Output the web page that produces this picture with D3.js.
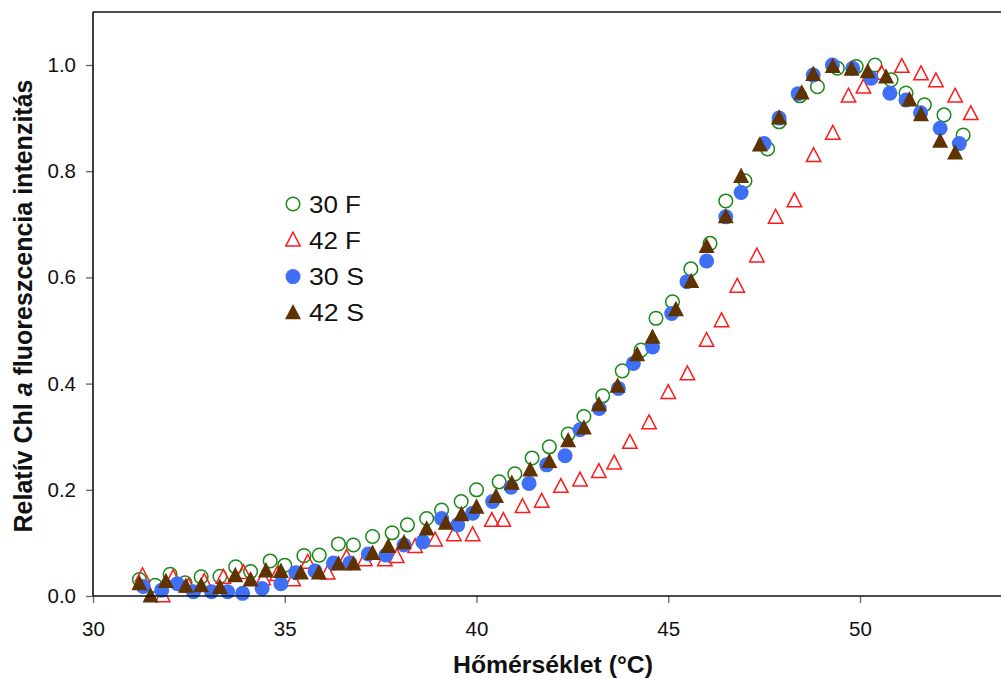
<!DOCTYPE html>
<html><head><meta charset="utf-8">
<script src="https://cdn.jsdelivr.net/npm/d3@7"></script>
<style>body{margin:0;background:#fff}svg{display:block}text{font-family:"Liberation Sans",Arial,sans-serif}</style>
</head><body><svg id="c" width="1001" height="679"></svg>
<script>
const xTicks=[30,35,40,45,50];
const yTicks=[0,0.2,0.4,0.6,0.8,1.0];
const legendLabels=["30 F","42 F","30 S","42 S"];
const f30x=[31.21,31.62,32.01,32.40,32.82,33.31,33.72,34.11,34.62,35.00,35.50,35.90,36.40,36.79,37.29,37.80,38.20,38.70,39.09,39.60,40.00,40.59,41.00,41.45,41.90,42.39,42.80,43.29,43.80,44.29,44.68,45.11,45.59,46.09,46.50,47.00,47.59,47.89,48.43,48.89,49.41,49.90,50.39,50.81,51.20,51.68,52.19,52.69];
const f30y=[0.031,0.020,0.041,0.025,0.036,0.037,0.055,0.046,0.066,0.058,0.076,0.077,0.098,0.096,0.112,0.119,0.134,0.146,0.162,0.178,0.200,0.215,0.230,0.260,0.281,0.305,0.338,0.377,0.424,0.463,0.523,0.554,0.616,0.664,0.744,0.782,0.842,0.893,0.942,0.959,0.994,0.997,1.000,0.972,0.947,0.925,0.906,0.868];
const f42x=[31.29,31.82,32.09,32.49,32.90,33.40,33.92,34.44,34.80,35.22,35.60,36.12,36.61,37.09,37.61,37.92,38.40,38.92,39.41,39.90,40.40,40.70,41.20,41.70,42.20,42.70,43.19,43.59,44.00,44.50,45.00,45.50,46.00,46.39,46.80,47.31,47.80,48.29,48.79,49.29,49.70,50.09,50.56,51.09,51.59,51.98,52.48,52.89];
const f42y=[0.038,0.000,0.034,0.018,0.027,0.035,0.044,0.032,0.040,0.030,0.063,0.043,0.072,0.068,0.068,0.074,0.093,0.105,0.115,0.115,0.142,0.142,0.168,0.178,0.206,0.218,0.234,0.250,0.289,0.326,0.383,0.418,0.481,0.518,0.583,0.640,0.713,0.744,0.829,0.871,0.941,0.958,0.984,0.997,0.983,0.970,0.941,0.908];
const s30x=[31.31,31.79,32.20,32.62,33.09,33.51,33.90,34.41,34.90,35.29,35.79,36.27,36.70,37.18,37.64,38.11,38.60,39.09,39.51,39.90,40.42,40.90,41.37,41.83,42.31,42.70,43.20,43.70,44.09,44.59,45.09,45.49,46.00,46.50,46.90,47.50,47.89,48.39,48.78,49.28,49.81,50.29,50.78,51.20,51.58,52.09,52.59];
const s30y=[0.018,0.011,0.023,0.008,0.008,0.008,0.005,0.014,0.023,0.044,0.047,0.062,0.062,0.079,0.077,0.096,0.102,0.146,0.134,0.156,0.178,0.205,0.212,0.247,0.264,0.313,0.353,0.391,0.438,0.469,0.532,0.592,0.631,0.714,0.760,0.852,0.900,0.946,0.981,1.000,0.994,0.975,0.947,0.934,0.910,0.881,0.852];
const s42x=[31.21,31.50,31.90,32.42,32.82,33.31,33.71,34.11,34.51,34.90,35.42,35.89,36.40,36.79,37.29,37.70,38.11,38.70,39.20,39.61,40.00,40.51,40.92,41.40,41.90,42.39,42.80,43.19,43.68,44.19,44.59,45.20,45.60,46.00,46.50,46.90,47.39,47.89,48.48,48.78,49.29,49.78,50.20,50.68,51.29,51.59,52.09,52.48];
const s42y=[0.023,0.000,0.027,0.018,0.019,0.016,0.038,0.030,0.047,0.046,0.043,0.043,0.060,0.060,0.080,0.093,0.100,0.126,0.137,0.153,0.167,0.187,0.212,0.237,0.253,0.292,0.316,0.360,0.395,0.454,0.487,0.539,0.592,0.658,0.714,0.790,0.849,0.900,0.947,0.982,0.997,0.992,0.987,0.977,0.934,0.906,0.856,0.834];

const svg=d3.select("#c");
const L=93,T=12,B=596,R=1001;
const x=d3.scaleLinear().domain([30,30+(R-L)/38.35]).range([L,R]);
const y=d3.scaleLinear().domain([0,1.1]).range([B,B-1.1*531]);

const tri=(r)=>`M0,${-r*1.12}L${r},${r*0.8}L${-r},${r*0.8}Z`;
const series=[
 {xs:f30x,ys:f30y,type:"circle",fill:"none",stroke:"#188a18"},
 {xs:f42x,ys:f42y,type:"tri",fill:"none",stroke:"#ff1a1a"},
 {xs:s30x,ys:s30y,type:"circle",fill:"#3f6ff5",stroke:"none"},
 {xs:s42x,ys:s42y,type:"tri",fill:"#5e3300",stroke:"none"}
];
function mark(g,s,cx,cy){
  if(s.type==="circle"){
    g.append("circle").attr("cx",cx).attr("cy",cy).attr("r",s.fill==="none"?6.8:7.5)
     .attr("fill",s.fill).attr("stroke",s.stroke).attr("stroke-width",1.5);
  } else {
    g.append("path").attr("d",tri(s.fill==="none"?7.2:8)).attr("transform",`translate(${cx},${cy})`)
     .attr("fill",s.fill).attr("stroke",s.stroke).attr("stroke-width",1.5);
  }
}
const pg=svg.append("g");
series.forEach(s=>{ s.xs.forEach((v,i)=>mark(pg,s,x(v),y(s.ys[i]))); });

// axes
const xa=svg.append("g").attr("transform",`translate(0,${B})`).call(d3.axisBottom(x).tickValues(xTicks).tickSize(7).tickPadding(18).tickFormat(d3.format("d")));
const ya=svg.append("g").attr("transform",`translate(${L},0)`).call(d3.axisLeft(y).tickValues(yTicks).tickSize(7).tickPadding(10).tickFormat(d3.format(".1f")));
[xa,ya].forEach(a=>{a.select(".domain").remove();a.selectAll("line").attr("stroke","#666").attr("stroke-width",1.3);
 a.selectAll("text").attr("font-size",20.5).attr("fill","#111").attr("font-family","Liberation Sans, Arial, sans-serif");});
svg.append("line").attr("x1",L).attr("x2",R).attr("y1",B).attr("y2",B).attr("stroke","#111").attr("stroke-width",1.6);
svg.append("line").attr("x1",L).attr("x2",R).attr("y1",T).attr("y2",T).attr("stroke","#111").attr("stroke-width",1.6);
svg.append("line").attr("x1",L).attr("x2",L).attr("y1",T).attr("y2",B).attr("stroke","#111").attr("stroke-width",1.6);

svg.append("text").attr("x",553).attr("y",673).attr("text-anchor","middle").attr("font-size",24).attr("font-weight","bold").attr("fill","#111")
  .attr("textLength",200).attr("lengthAdjust","spacingAndGlyphs").text("Hőmérséklet (°C)");
const yl=svg.append("text").attr("transform","translate(32,306) rotate(-90)").attr("text-anchor","middle").attr("font-size",25).attr("font-weight","bold").attr("fill","#111");
yl.append("tspan").text("Relatív Chl ");
yl.append("tspan").attr("font-style","italic").text("a");
yl.append("tspan").text(" fluoreszcencia intenzitás");

// legend
const lg=svg.append("g");
legendLabels.forEach((t,i)=>{
  const cy=204+i*36.3;
  const s=series[i];
  if(s.type==="circle") lg.append("circle").attr("cx",293).attr("cy",cy).attr("r",s.fill==="none"?6.8:7.5).attr("fill",s.fill).attr("stroke",s.stroke).attr("stroke-width",1.5);
  else lg.append("path").attr("d",tri(s.fill==="none"?7.2:8)).attr("transform",`translate(293,${cy})`).attr("fill",s.fill).attr("stroke",s.stroke).attr("stroke-width",1.5);
  lg.append("text").attr("x",309).attr("y",cy+8.5).attr("font-size",23).attr("fill","#111")
    .attr("textLength",t.endsWith("S")?55:52).attr("lengthAdjust","spacingAndGlyphs").text(t);
});
</script></body></html>
